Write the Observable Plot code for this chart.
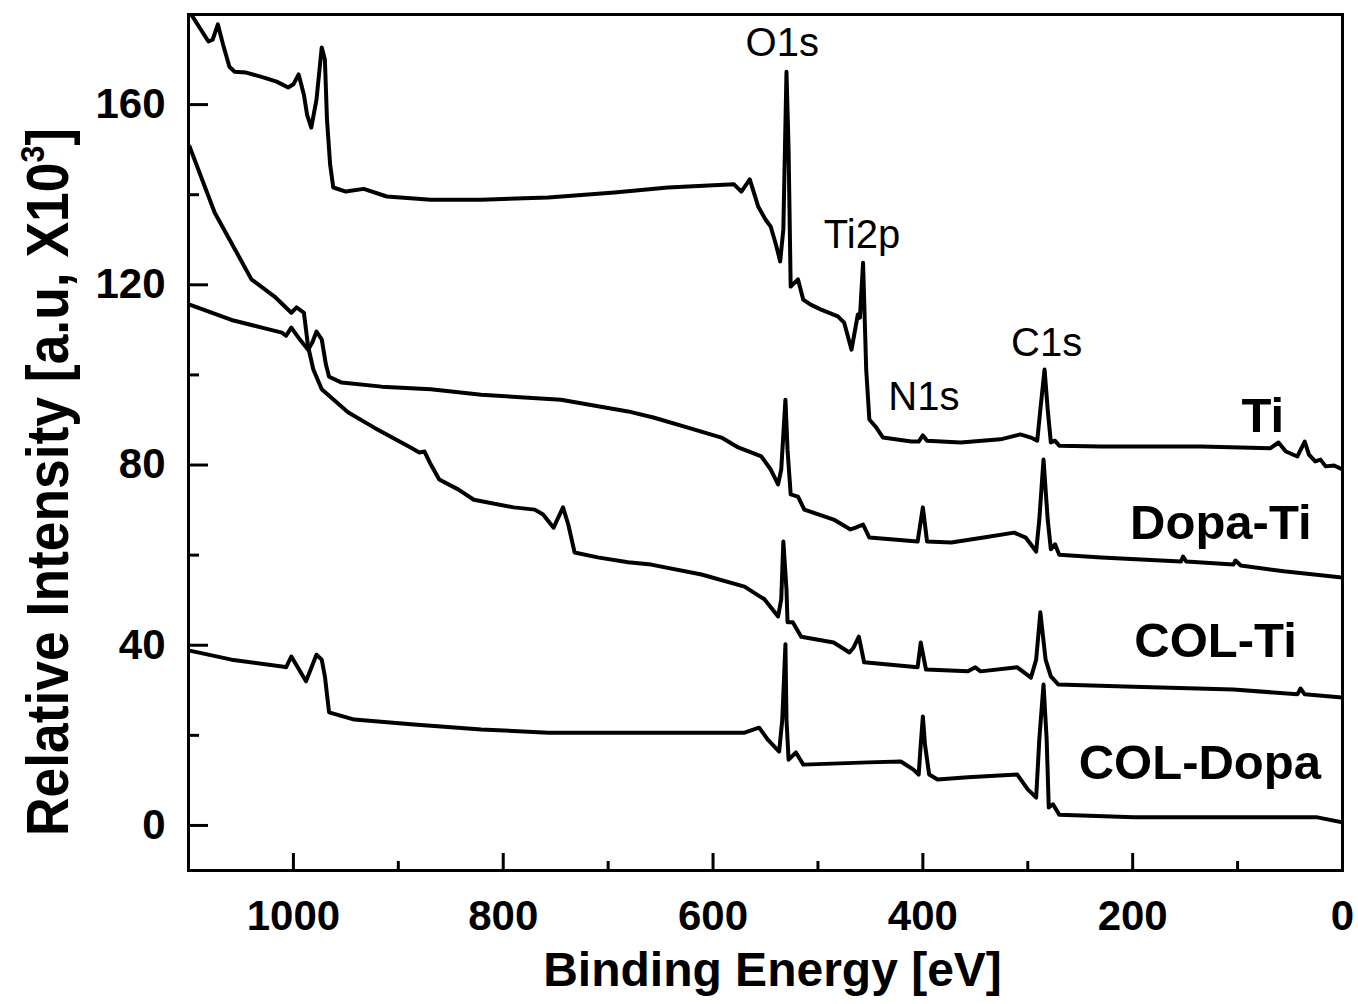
<!DOCTYPE html>
<html>
<head>
<meta charset="utf-8">
<script src="https://cdn.jsdelivr.net/npm/d3@7"></script>
<script src="https://cdn.jsdelivr.net/npm/@observablehq/plot@0.6"></script>
<style>
  html, body { margin: 0; padding: 0; background: #fff; }
  #chart { width: 1358px; height: 1004px; }
</style>
</head>
<body>
<div id="chart"></div>
<script>
// ---- Data: binding energy [eV], relative intensity [a.u. x10^3] ----
const tiSeries = [
  [1099,180.6],[1081,174.0],[1077,174.4],[1072,177.8],[1067,173.3],[1061,168.4],[1056,167.3],[1045,167.1],
  [1028,166.0],[1016,165.1],[1005,163.8],[1000,164.5],[995,166.7],[990,162.2],[987,157.8],[983,154.9],
  [978,161.1],[973,172.7],[970,170.0],[968,156.7],[965,146.7],[962,141.6],[950,140.7],[933,141.3],
  [911,139.6],[869,138.9],[821,138.9],[757,139.4],[694,140.5],[643,141.6],[580,142.3],[573,140.7],
  [565,143.4],[557,137.4],[550,134.5],[545,132.9],[540,128.9],[536,125.2],[533,132.3],[530,167.3],
  [528,150.0],[526,119.6],[519,121.2],[514,116.7],[507,115.6],[497,114.5],[481,113.0],[475,111.6],
  [468,105.6],[462,113.4],[460,112.7],[457,124.9],[454,101.2],[451,90.1],[445,88.5],[438,86.1],
  [411,85.2],[404,85.2],[400,86.6],[396,85.4],[364,85.0],[326,85.7],[307,86.8],[297,86.1],
  [291,85.4],[288,92.3],[284,101.2],[281,92.3],[278,85.0],[274,85.4],[270,84.3],[230,84.1],
  [135,84.1],[69,83.7],[61,85.0],[54,83.0],[43,81.9],[36,85.2],[32,82.3],[26,80.8],
  [21,81.2],[16,79.7],[8,79.9],[0,79.0]
];
const dopaTiSeries = [
  [1099,115.6],[1059,112.2],[1030,110.5],[1011,109.4],[1007,108.7],[1002,110.5],[994,107.9],[986,105.6],
  [982,107.2],[978,109.6],[973,107.9],[969,102.3],[966,99.6],[954,98.3],[916,97.4],[869,96.8],
  [821,95.6],[745,94.5],[681,91.9],[656,90.5],[624,88.3],[592,86.1],[576,83.9],[554,81.9],
  [545,79.0],[538,75.7],[535,79.0],[531,94.5],[529,83.4],[526,73.5],[519,73.0],[513,70.1],
  [485,67.9],[469,65.7],[464,66.1],[457,66.8],[451,63.9],[405,63.0],[400,70.6],[396,63.0],
  [373,62.8],[342,63.9],[313,65.0],[302,63.9],[292,60.8],[289,67.9],[285,81.2],[281,67.9],
  [278,61.3],[274,62.4],[270,60.1],[230,59.5],[154,58.6],[152,59.7],[149,58.6],[104,57.9],
  [102,58.8],[97,57.7],[56,56.4],[0,55.0]
];
const colTiSeries = [
  [1099,150.7],[1075,136.0],[1052,126.3],[1040,121.2],[1018,117.4],[1002,113.8],[997,115.0],[990,113.8],
  [986,106.3],[981,101.2],[973,96.8],[948,91.7],[923,88.3],[890,84.1],[880,82.8],[875,83.0],
  [869,80.1],[861,76.8],[843,74.6],[828,72.3],[790,70.6],[770,70.1],[762,69.0],[752,66.1],
  [743,70.6],[738,66.8],[732,60.6],[710,59.5],[681,58.4],[659,57.9],[611,55.7],[570,53.0],
  [551,50.2],[538,46.4],[535,50.2],[533,63.0],[530,52.4],[529,45.1],[524,45.1],[516,41.9],
  [485,40.6],[470,38.4],[466,39.5],[461,41.9],[456,36.2],[405,35.1],[402,40.6],[397,34.6],
  [357,34.2],[350,35.1],[345,34.2],[310,35.1],[297,32.8],[292,36.8],[288,47.3],[283,36.8],
  [278,33.1],[271,31.3],[199,30.8],[104,30.2],[43,29.1],[40,30.4],[36,29.1],[0,28.4]
];
const colDopaSeries = [
  [1099,38.8],[1059,36.8],[1011,35.3],[1007,35.1],[1002,37.5],[988,32.0],[978,37.9],[973,36.8],
  [970,33.1],[966,25.1],[942,23.5],[885,22.4],[821,21.3],[757,20.6],[628,20.6],[570,20.6],
  [556,21.7],[548,19.1],[537,16.4],[534,23.5],[531,40.2],[530,23.5],[528,14.6],[521,16.2],
  [514,13.5],[452,14.0],[421,14.2],[409,12.4],[404,11.3],[402,18.0],[400,24.2],[398,18.0],
  [394,11.3],[386,10.2],[357,10.7],[310,11.3],[300,8.0],[292,6.2],[289,19.1],[285,31.3],
  [282,19.1],[280,4.0],[276,4.7],[270,2.4],[199,1.8],[104,1.8],[24,1.8],[0,0.7]
];
const seriesNames = ["Ti", "Dopa-Ti", "COL-Ti", "COL-Dopa"];
const seriesLabelPos = [[76, 87.4], [116, 63.5], [121, 37.3], [136, 10.4]];
const peakNames = ["O1s", "Ti2p", "N1s", "C1s"];
const peakLabelPos = [[534, 170.7], [458, 128.1], [399, 92.3], [282, 104.3]];
const xMajorTicks = [0, 200, 400, 600, 800, 1000];
const xMinorTicks = [100, 300, 500, 700, 900];
const yMajorTicks = [0, 40, 80, 120, 160];
const yMinorTicks = [20, 60, 100, 140];
const xTitle = "Binding Energy [eV]";
const yTitle = "Relative Intensity [a.u, X10";
const yTitleSup = "3";

// ---- Build table ----
const allSeries = [tiSeries, dopaTiSeries, colTiSeries, colDopaSeries];
const rows = [];
allSeries.forEach((s, i) => s.forEach(([e, v]) => rows.push({series: seriesNames[i], energy: e, value: v})));
const seriesLabels = seriesNames.map((n, i) => ({text: n, energy: seriesLabelPos[i][0], value: seriesLabelPos[i][1]}));
const peakLabels = peakNames.map((n, i) => ({text: n, energy: peakLabelPos[i][0], value: peakLabelPos[i][1]}));

const W = 1358, H = 1004;
const mL = 188, mR = 16, mT = 14, mB = 134;
const innerW = W - mL - mR, innerH = H - mT - mB;

const chart = Plot.plot({
  width: W,
  height: H,
  marginLeft: mL,
  marginRight: mR,
  marginTop: mT,
  marginBottom: mB,
  style: {fontFamily: "'Liberation Sans', Arial, sans-serif", background: "#fff", color: "#000"},
  x: {domain: [1100, 0], label: null},
  y: {domain: [-10, 180], label: null},
  marks: [
    Plot.lineY(rows, {x: "energy", y: "value", z: "series", stroke: "#000", strokeWidth: 4, clip: true, strokeLinejoin: "round"}),
    // inward ticks
    Plot.ruleX(xMajorTicks, {x: d => d, insetTop: innerH - 17, stroke: "#000", strokeWidth: 3}),
    Plot.ruleX(xMinorTicks, {x: d => d, insetTop: innerH - 9, stroke: "#000", strokeWidth: 3}),
    Plot.ruleY(yMajorTicks, {y: d => d, insetRight: innerW - 20, stroke: "#000", strokeWidth: 3}),
    Plot.ruleY(yMinorTicks, {y: d => d, insetRight: innerW - 11, stroke: "#000", strokeWidth: 3}),
    Plot.axisX({ticks: xMajorTicks, tickFormat: d3.format("d"), tickSize: 0, tickPadding: 30, fontSize: 42, fontWeight: "bold", label: null}),
    Plot.axisY({ticks: yMajorTicks, tickFormat: d3.format("d"), tickSize: 0, tickPadding: 23, fontSize: 42, fontWeight: "bold", label: null}),
    Plot.frame({stroke: "#000", strokeWidth: 3}),
    Plot.text(peakLabels, {x: "energy", y: "value", text: "text", fontSize: 40, lineAnchor: "bottom", textAnchor: "middle", fill: "#000"}),
    Plot.text(seriesLabels, {x: "energy", y: "value", text: "text", fontSize: 49, fontWeight: "bold", lineAnchor: "bottom", textAnchor: "middle", fill: "#000"}),
    Plot.text([xTitle], {frameAnchor: "bottom", dy: 115, dx: 7, fontSize: 48, fontWeight: "bold", lineAnchor: "bottom", fill: "#000"})
  ]
});

const svg = d3.select(chart);
const yt = svg.append("text")
  .attr("transform", "translate(68,482) rotate(-90)")
  .attr("text-anchor", "middle")
  .attr("font-size", 60)
  .attr("font-weight", "bold")
  .attr("fill", "#000")
  .attr("textLength", 708)
  .attr("lengthAdjust", "spacingAndGlyphs");
yt.append("tspan").text(yTitle);
yt.append("tspan").attr("font-size", 34).attr("dy", -24).text(yTitleSup);
yt.append("tspan").attr("dy", 24).text("]");

document.getElementById("chart").appendChild(chart);
</script>
</body>
</html>
